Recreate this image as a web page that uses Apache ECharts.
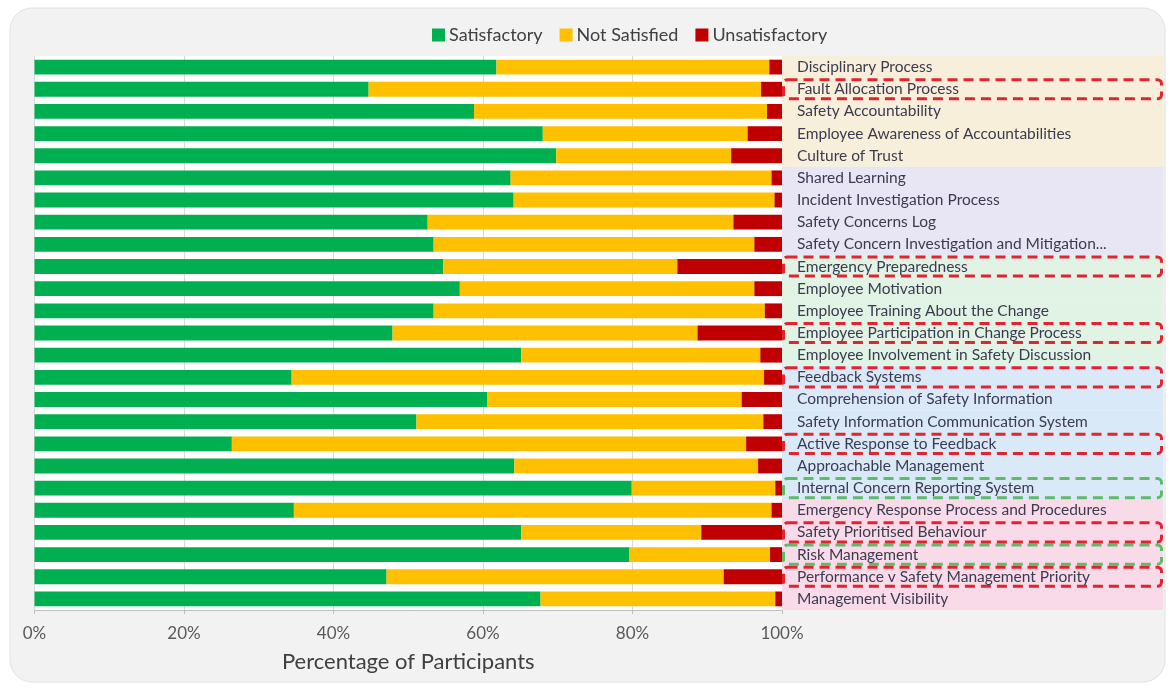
<!DOCTYPE html>
<html>
<head>
<meta charset="utf-8">
<script src="https://cdn.jsdelivr.net/npm/echarts@6/dist/echarts.min.js"></script>
<style>
  html, body { margin: 0; padding: 0; background: #fff; }
  #chart { width: 1175px; height: 688px; }
</style>
</head>
<body>
<div id="chart"></div>
<script>
// survey items, top to bottom
const categories = [
  'Disciplinary Process',
  'Fault Allocation Process',
  'Safety Accountability',
  'Employee Awareness of Accountabilities',
  'Culture of Trust',
  'Shared Learning',
  'Incident Investigation Process',
  'Safety Concerns Log',
  'Safety Concern Investigation and Mitigation...',
  'Emergency Preparedness',
  'Employee Motivation',
  'Employee Training About the Change',
  'Employee Participation in Change Process',
  'Employee Involvement in Safety Discussion',
  'Feedback Systems',
  'Comprehension of Safety Information',
  'Safety Information Communication System',
  'Active Response to Feedback',
  'Approachable Management',
  'Internal Concern Reporting System',
  'Emergency Response Process and Procedures',
  'Safety Prioritised Behaviour',
  'Risk Management',
  'Performance v Safety Management Priority',
  'Management Visibility'
];

// percent of participants
const satisfactory = [61.8, 44.7, 58.8, 68.0, 69.8, 63.7, 64.1, 52.6, 53.4, 54.7, 56.9, 53.4, 47.9,
  65.1, 34.4, 60.6, 51.1, 26.4, 64.2, 79.9, 34.7, 65.1, 79.6, 47.1, 67.7];
const notSatisfied = [36.5, 52.5, 39.2, 27.4, 23.4, 34.9, 34.9, 40.9, 42.9, 31.3, 39.4, 44.3, 40.8,
  32.0, 63.2, 34.0, 46.4, 68.8, 32.6, 19.2, 63.9, 24.1, 18.8, 45.1, 31.4];
const unsatisfactory = [1.7, 2.8, 2.0, 4.6, 6.8, 1.4, 1.0, 6.5, 3.7, 14.0, 3.7, 2.3, 11.3,
  2.9, 2.4, 5.4, 2.5, 4.8, 3.2, 0.9, 1.4, 10.8, 1.6, 7.8, 0.9];

const xTicks = [0, 20, 40, 60, 80, 100];

// theme group of each item (right-hand shaded bands)
const groupOf = [0, 0, 0, 0, 0, 1, 1, 1, 1, 2, 2, 2, 2, 2, 3, 3, 3, 3, 3, 3, 4, 4, 4, 4, 4];
const redBoxed = ['Fault Allocation Process', 'Emergency Preparedness', 'Employee Participation in Change Process',
  'Feedback Systems', 'Active Response to Feedback', 'Safety Prioritised Behaviour',
  'Performance v Safety Management Priority'];
const greenBoxed = ['Internal Concern Reporting System', 'Risk Management'];

const groupColors = ['#f8efda', '#e8e6f5', '#e0f3e4', '#dae9f8', '#f9dae8'];
const fontFamily = 'Lato, "Liberation Sans", sans-serif';

const chart = echarts.init(document.getElementById('chart'));

const gridTop = 56;
const gridBottom = 78;

chart.setOption({
  animation: false,
  backgroundColor: '#fff',
  textStyle: { fontFamily },
  graphic: [{
    type: 'rect',
    z: -10,
    shape: { x: 10, y: 8, width: 1155, height: 674, r: 22 },
    style: { fill: '#f2f2f2', stroke: '#e2e2e2', lineWidth: 1 }
  }],
  legend: {
    top: 21,
    left: 427,
    icon: 'rect',
    itemWidth: 13,
    itemHeight: 13,
    itemGap: 17,
    textStyle: { fontSize: 18, color: '#404040', fontFamily, padding: [0, 0, 0, -1] },
    data: ['Satisfactory', 'Not Satisfied', 'Unsatisfactory']
  },
  grid: [
    { left: 34.5, width: 747.5, top: gridTop, bottom: gridBottom, show: true, backgroundColor: '#ffffff', borderWidth: 0 },
    { left: 782, width: 381, top: gridTop, bottom: gridBottom }
  ],
  xAxis: [
    {
      gridIndex: 0,
      type: 'value',
      min: 0,
      max: 100,
      interval: 20,
      name: 'Percentage of Participants',
      nameLocation: 'middle',
      nameGap: 41,
      nameTextStyle: { fontSize: 22, color: '#404040', fontFamily },
      axisLine: { show: true, lineStyle: { color: '#bfbfbf' } },
      axisTick: { show: true, length: 4, lineStyle: { color: '#bfbfbf' } },
      axisLabel: { formatter: v => xTicks.includes(v) ? v + '%' : '', fontSize: 17, color: '#595959', margin: 15 },
      splitLine: { lineStyle: { color: '#d9d9d9' } }
    },
    { gridIndex: 1, type: 'value', min: 0, max: 1, show: false }
  ],
  yAxis: [
    {
      gridIndex: 0,
      type: 'category',
      inverse: true,
      data: categories,
      axisLine: { show: false },
      axisTick: { show: false },
      axisLabel: { show: false }
    },
    {
      gridIndex: 1,
      type: 'category',
      inverse: true,
      data: categories,
      axisLine: { show: false },
      axisTick: { show: false },
      axisLabel: { inside: true, margin: 15, fontSize: 15.5, color: '#3b3b4f', fontFamily },
      z: 10
    }
  ],
  series: [
    {
      name: 'Satisfactory', type: 'bar', stack: 'total', barCategoryGap: '33%',
      itemStyle: { color: '#00b050' }, data: satisfactory
    },
    {
      name: 'Not Satisfied', type: 'bar', stack: 'total', barCategoryGap: '33%',
      itemStyle: { color: '#ffc000' }, data: notSatisfied
    },
    {
      name: 'Unsatisfactory', type: 'bar', stack: 'total', barCategoryGap: '33%',
      itemStyle: { color: '#c00000' }, data: unsatisfactory
    },
    {
      name: 'bands', type: 'bar', xAxisIndex: 1, yAxisIndex: 1,
      barCategoryGap: 0, barGap: '-100%', silent: true, z: 1,
      data: categories.map((c, i) => ({ value: 1, itemStyle: { color: groupColors[groupOf[i]] } }))
    },
    {
      name: 'redBox', type: 'bar', xAxisIndex: 1, yAxisIndex: 1,
      barCategoryGap: 0, barGap: '-100%', silent: true, z: 3,
      itemStyle: { color: 'transparent', borderColor: '#e42331', borderWidth: 3, borderType: [10, 6], borderRadius: 4 },
      data: categories.map(c => redBoxed.includes(c) ? 1 : '-')
    },
    {
      name: 'greenBox', type: 'bar', xAxisIndex: 1, yAxisIndex: 1,
      barCategoryGap: 0, barGap: '-100%', silent: true, z: 2,
      itemStyle: { color: 'transparent', borderColor: '#5dbb6a', borderWidth: 3, borderType: [10, 6], borderRadius: 4 },
      data: categories.map(c => greenBoxed.includes(c) ? 1 : '-')
    }
  ]
});
</script>
</body>
</html>
